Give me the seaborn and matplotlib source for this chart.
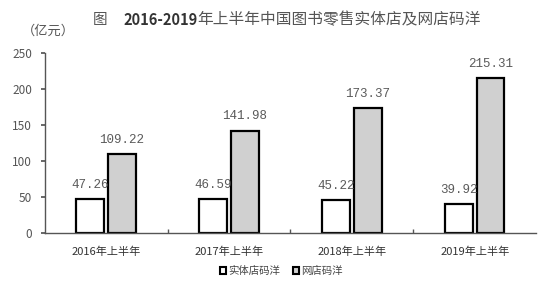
import matplotlib
matplotlib.use("Agg")
import matplotlib.pyplot as plt
import seaborn as sns
import pandas as pd
from matplotlib.patches import Patch

categories = ["2016年上半年", "2017年上半年", "2018年上半年", "2019年上半年"]
series_names = ["实体店码洋", "网店码洋"]
physical = [47.26, 46.59, 45.22, 39.92]
online = [109.22, 141.98, 173.37, 215.31]
yticks = [0, 50, 100, 150, 200, 250]

sns.set_theme(style="white")
plt.rcParams['font.family'] = ['Noto Sans CJK SC', 'DejaVu Sans']

df = pd.DataFrame({
    "cat": categories * 2,
    "series": [series_names[0]] * 4 + [series_names[1]] * 4,
    "value": physical + online,
})

fig = plt.figure(figsize=(5.46, 2.93), dpi=100)
ax = fig.add_axes([0.082, 0.205, 0.9, 0.614])
palette = {series_names[0]: "#ffffff", series_names[1]: "#d0d0d0"}
sns.barplot(data=df, x="cat", y="value", hue="series", palette=palette,
            width=0.516, gap=0.125, edgecolor="black", linewidth=1.6,
            ax=ax, legend=False)

for cont in ax.containers:
    ax.bar_label(cont, labels=[f"{v:.2f}" for v in cont.datavalues],
                 padding=6, fontsize=9, color="#5a5a5a", family="Liberation Mono")

ax.set_ylim(0, 250)
ax.set_xlim(-0.5, 3.5)
ax.set_yticks(yticks)
ax.set_xlabel("")
ax.set_ylabel("")
for s in ["top", "right"]:
    ax.spines[s].set_visible(False)
for s in ["left", "bottom"]:
    ax.spines[s].set_color("#555555")
    ax.spines[s].set_linewidth(1.0)
ax.tick_params(axis="y", left=True, length=3, color="#555555", labelsize=8.5, labelcolor="#555555", pad=6)
ax.tick_params(axis="x", bottom=False, labelsize=8, labelcolor="#333333", pad=4)
ax.set_xticks([0.5, 1.5, 2.5], minor=True)
ax.tick_params(axis="x", which="minor", bottom=True, direction="in", length=3, color="#555555")

ty = 1 - 20 / 293
fig.text(93 / 546, ty, "图", fontsize=10.5, color="#555555", ha="left", va="center")
fig.canvas.draw()
r = fig.canvas.get_renderer()
t1 = fig.text(123 / 546, ty, "2016-2019", fontsize=10.5, color="#333333",
              ha="left", va="center", fontweight="bold")
bb = t1.get_window_extent(r)
fig.text(bb.x1 / fig.bbox.width, ty, "年上半年中国图书零售实体店及网店码洋", fontsize=11.3,
         color="#555555", ha="left", va="center")
fig.text(22 / 546, 1 - 31 / 293, "（亿元）", fontsize=9.5, color="#555555", ha="left", va="center")

handles = [Patch(facecolor=palette[n], edgecolor="black", linewidth=1.5) for n in series_names]
fig.legend(handles, series_names, loc="center", bbox_to_anchor=(0.515, 0.075), ncol=2,
           frameon=False, fontsize=7.5, handlelength=0.6, handleheight=0.6,
           handletextpad=0.2, columnspacing=1.2, labelcolor="#444444")

fig.savefig("out.png", dpi=100)
